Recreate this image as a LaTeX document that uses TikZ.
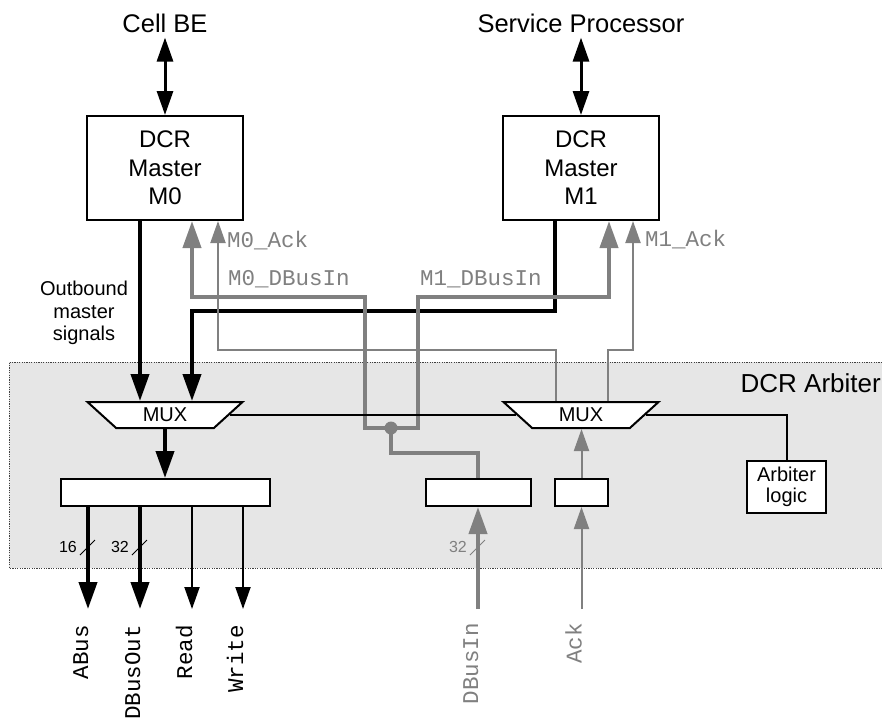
\documentclass[tikz,border=0pt]{standalone}
\usepackage{fontspec}
\setmainfont{Liberation Sans}
\setmonofont{Liberation Mono}
\usepackage{tikz}
\usetikzlibrary{arrows.meta,positioning,shapes.geometric}
\definecolor{arbInk}{HTML}{000000}
\definecolor{arbGray}{HTML}{808080}
\definecolor{arbZone}{HTML}{E6E6E6}
\definecolor{arbEdge}{HTML}{404040}
\tikzset{
  arb diagram/.style={text=arbInk, line join=miter},
  arb title/.style={font=\fontsize{25.5}{30}\selectfont, inner sep=5pt},
  arb box/.style={draw=arbInk, fill=white, line width=2pt, align=center,
    inner sep=0pt, font=\fontsize{24}{28.5}\selectfont},
  arb reg/.style={draw=arbInk, fill=white, line width=2pt,
    minimum height=27pt, inner sep=0pt},
  arb mux/.style={trapezium, trapezium left angle=133, trapezium right angle=133,
    trapezium stretches=true, draw=arbInk, fill=white, line width=2pt,
    minimum width=156pt, minimum height=26pt, inner sep=0pt,
    font=\fontsize{20}{22}\selectfont},
  arb note/.style={font=\fontsize{20}{22.5}\selectfont, align=center, inner sep=0pt},
  arb signal/.style={font=\ttfamily\fontsize{22.5}{26}\selectfont, inner sep=0pt},
  arb pin/.style={arb signal, rotate=90, anchor=base east},
  arb both/.style={{Triangle[length=24pt,width=16pt]}-{Triangle[length=24pt,width=16pt]},
    line width=3pt},
  arb bus/.style={-{Triangle[length=27pt,width=18pt]}, line width=4pt},
  arb wire/.style={-{Triangle[length=22pt,width=15pt]}, line width=2pt},
  arb gray bus/.style={arb bus, draw=arbGray},
  arb gray wire/.style={arb wire, draw=arbGray},
  arb select/.style={draw=arbInk, line width=2pt},
  arb width/.style={font=\fontsize{16}{18}\selectfont, inner sep=0pt, anchor=east}
}

\begin{document}
\begin{tikzpicture}[arb diagram,x=1pt,y=-1pt]
\useasboundingbox (0,0) rectangle (882,720);
% arbiter zone
\fill[arbZone] (9,362) rectangle (882,568);
\draw[arbEdge, line width=0.8pt, dash pattern=on 1.2pt off 1.2pt] (882,362) -| (9,568) -- (882,568);
\node[font=\fontsize{26}{30}\selectfont, anchor=east, inner sep=0pt] (zone) at (881,383) {DCR Arbiter};

% masters
\node[arb title] (cellbe) at (165,23) {Cell BE};
\node[arb title] (service) at (581,23) {Service Processor};
\node[arb box, minimum width=156pt, minimum height=104pt] (m0) at (165,168) {DCR\\Master\\M0};
\node[arb box, minimum width=156pt, minimum height=104pt] (m1) at (581,168) {DCR\\Master\\M1};
\node[arb note] (outlbl) at (84,313) {Outbound\\master\\signals};

% muxes, registers, logic
\node[arb mux] (mux0) at (165,415) {MUX};
\node[arb mux] (mux1) at (581,415) {MUX};
\node[arb reg, minimum width=209pt] (outreg) at (165.5,492.5) {};
\node[arb reg, minimum width=105pt] (dinreg) at (478,492.5) {};
\node[arb reg, minimum width=53pt] (ackreg) at (581.5,492.5) {};
\node[arb box, font=\fontsize{20}{21.5}\selectfont, minimum width=79pt, minimum height=52pt] (logic) at (786.5,487) {Arbiter\\logic};

% pins
\node[arb pin] (abus) at (88,625) {ABus};
\node[arb pin] (dbusout) at (140,625) {DBusOut};
\node[arb pin] (read) at (192,625) {Read};
\node[arb pin] (write) at (243,625) {Write};
\node[arb pin, text=arbGray] (dbusin) at (478,623) {DBusIn};
\node[arb pin, text=arbGray] (ack) at (581.5,623) {Ack};

% signal names
\node[arb signal, text=arbGray, anchor=base west] (m0acklbl) at (227,247) {M0\_Ack};
\node[arb signal, text=arbGray, anchor=base west] (m0dinlbl) at (228,285) {M0\_DBusIn};
\node[arb signal, text=arbGray, anchor=base west] (m1dinlbl) at (420,285) {M1\_DBusIn};
\node[arb signal, text=arbGray, anchor=base west] (m1acklbl) at (645,246) {M1\_Ack};

% routing columns and rows
\coordinate (m0out) at (140,0);
\coordinate (m0in) at (192,0);
\coordinate (m0ackx) at (218,0);
\coordinate (m1out) at (555,0);
\coordinate (m1in) at (609,0);
\coordinate (m1ackx) at (633,0);
\coordinate (dleft) at (365,0);
\coordinate (dright) at (418,0);
\coordinate (ackleft) at (556,0);
\coordinate (ackright) at (608,0);
\coordinate (ylink) at (0,311);
\coordinate (ydata) at (0,297);
\coordinate (yack) at (0,350);
\coordinate (yjog) at (0,453);
\coordinate (split) at (391,428);

\draw[arb both] (cellbe) -- (m0);
\draw[arb both] (service) -- (m1);

% outbound
\draw[arb bus] (m0.south -| m0out) -- (mux0.north -| m0out);
\draw[arb bus] (m1.south -| m1out) -- (m1out |- ylink) -| (mux0.north -| m0in);

% read data back to masters
\draw[arbGray, line width=4pt] (dinreg.north) -- (dinreg.north |- yjog) -| (split);
\draw[arb gray bus] (split) -- (split -| dleft) -- (dleft |- ydata) -| (m0.south -| m0in);
\draw[arb gray bus] (split) -- (split -| dright) -- (dright |- ydata) -| (m1.south -| m1in);
\fill[arbGray] (split) circle (6.5pt);

% acks
\draw[arb gray wire] (mux1.north -| ackleft) -- (ackleft |- yack) -| (m0.south -| m0ackx);
\draw[arb gray wire] (mux1.north -| ackright) -- (ackright |- yack) -| (m1.south -| m1ackx);

% select
\draw[arb select] (mux0.east) -- (mux1.west);
\draw[arb select] (mux1.east) -| (logic.north);

% register in and out
\draw[arb bus] (mux0.south) -- (mux0.south |- outreg.north);
\draw[arb bus, shorten >=16pt] (outreg.south -| abus.base east) -- (abus.base east);
\draw[arb bus, shorten >=16pt] (outreg.south -| dbusout.base east) -- (dbusout.base east);
\draw[arb wire, shorten >=16pt] (outreg.south -| read.base east) -- (read.base east);
\draw[arb wire, shorten >=16pt] (outreg.south -| write.base east) -- (write.base east);
\draw[arb gray bus, shorten <=14pt] (dbusin.base east) -- (dbusin.base east |- dinreg.south);
\draw[arb gray wire, shorten <=14pt] (ack.base east) -- (ack.base east |- ackreg.south);
\draw[arb gray wire] (ackreg.north) -- (ackreg.north |- mux1.south);

% bus widths
\foreach \x/\w/\c in {88/16/arbInk,140/32/arbInk,478/32/arbGray}{
  \draw[\c, line width=0.8pt] (\x-8,555) -- (\x+7,540);
  \node[arb width, text=\c] (bits\x) at (\x-11,547) {\w};
}
\end{tikzpicture}
\end{document}
